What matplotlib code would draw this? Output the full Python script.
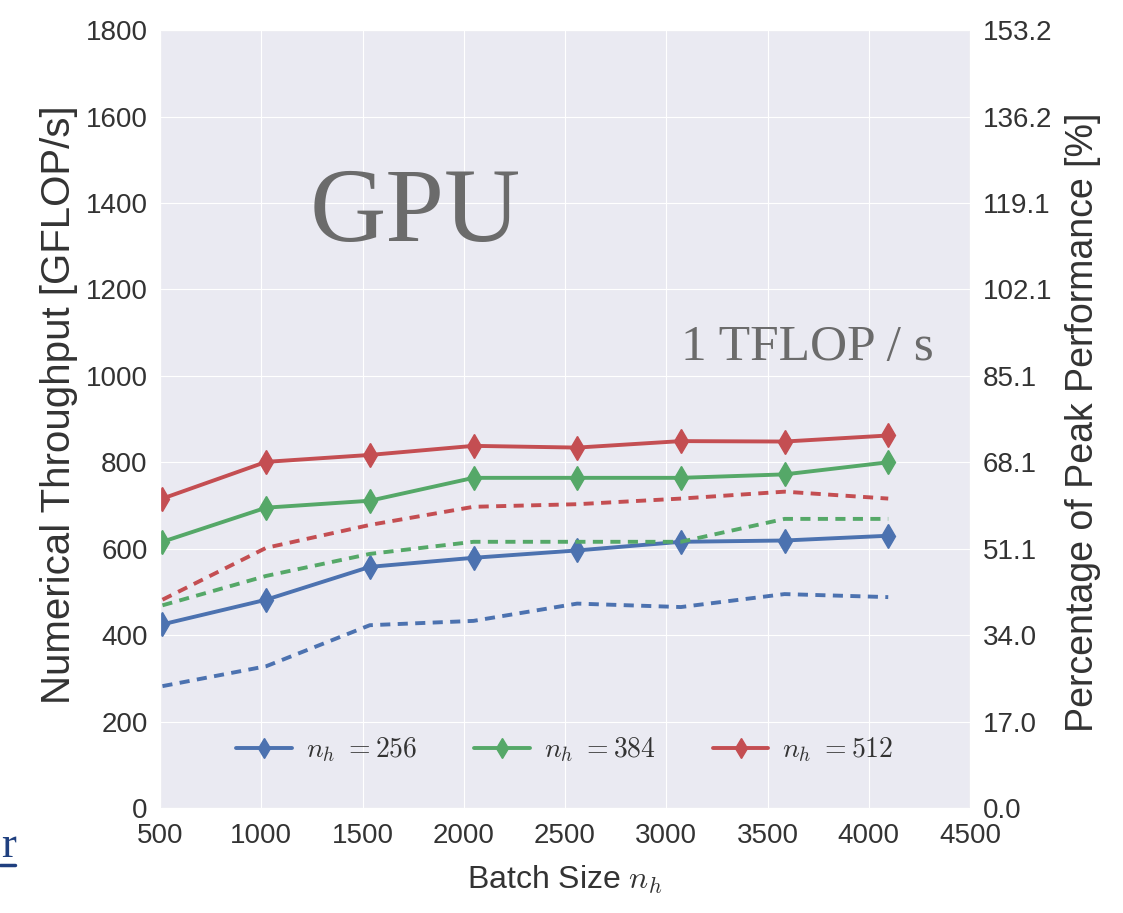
import numpy as np
import matplotlib
matplotlib.use("Agg")
import matplotlib.pyplot as plt
import seaborn as sns

# batch sizes and measured throughput (GFLOP/s)
batch = [512, 1024, 1536, 2048, 2560, 3072, 3584, 4096]
solid_256 = [425, 482, 558, 579, 596, 616, 619, 630]
solid_384 = [616, 695, 711, 764, 764, 764, 772, 800]
solid_512 = [716, 801, 817, 838, 834, 849, 848, 862]
dash_256 = [282, 328, 423, 433, 473, 465, 495, 488]
dash_384 = [469, 537, 588, 616, 616, 616, 669, 669]
dash_512 = [482, 602, 655, 697, 703, 716, 732, 716]
labels = [r"$n_h\ {=}256$", r"$n_h\ {=}384$", r"$n_h\ {=}512$"]
peak = 1175.0  # GFLOP/s

sns.set_style("darkgrid")
plt.rcParams["font.family"] = ["Liberation Sans", "DejaVu Sans"]
plt.rcParams["mathtext.fontset"] = "cm"
plt.rcParams["text.color"] = "#333333"
plt.rcParams["xtick.color"] = "#333333"
plt.rcParams["ytick.color"] = "#333333"

colors = ["#4C72B0", "#55A868", "#C44E52"]

fig = plt.figure(figsize=(11.23, 9.13), dpi=100)
ax = fig.add_axes([0.1425, 0.115, 0.7213, 0.852])

for ys, c, lab in zip([solid_256, solid_384, solid_512], colors, labels):
    ax.plot(batch, ys, color=c, lw=2.8, marker="d", ms=12, label=lab)
for ys, c in zip([dash_256, dash_384, dash_512], colors):
    ax.plot(batch, ys, color=c, lw=2.8, ls="--", dashes=(2.6, 1.9))

ax.set_xlim(500, 4500)
ax.set_ylim(0, 1800)
ax.set_xticks(np.arange(500, 4501, 500))
ax.set_yticks(np.arange(0, 1801, 200))
ax.tick_params(axis="y", labelsize=20, length=0, pad=9)
ax.tick_params(axis="x", labelsize=20, length=0, pad=11)

ax.set_ylabel("Numerical Throughput [GFLOP/s]", fontsize=29, color="#333333")
ax.yaxis.set_label_coords(-0.125, 0.518)
ax.yaxis.label.set_va("center")
ax.set_xlabel(r"Batch Size $n_h$", fontsize=23, color="#333333", labelpad=10)

ax2 = ax.twinx()
ticks_pct = np.arange(0, 1801, 200) / peak * 100
ax2.set_ylim(0, 1800 / peak * 100)
ax2.set_yticks(ticks_pct)
ax2.set_yticklabels(["%.1f" % v for v in ticks_pct])
ax2.grid(False)
ax2.tick_params(labelsize=20, length=0, pad=9)
ax2.set_ylabel("Percentage of Peak Performance [%]", fontsize=27, color="#333333")
ax2.yaxis.set_label_coords(1.14, 0.496)
ax2.yaxis.label.set_va("center")

ax.text(0.315, 0.762, "GPU", transform=ax.transAxes, ha="center", va="center",
        family="Liberation Serif", fontsize=76, color="#6b6b6b")
ax.text(0.799, 0.592, "1 TFLOP / s", transform=ax.transAxes, ha="center", va="center",
        family="Liberation Serif", fontsize=37, color="#6b6b6b")

ax.legend(loc="center", bbox_to_anchor=(0.5, 0.075), ncol=3, frameon=False,
          fontsize=20, handlelength=2.0, handletextpad=0.5, columnspacing=2.05,
          markerscale=0.85)

# leftover link text at the page edge
fig.text(1 / 1123, 0.061, "r", ha="left", va="baseline",
         family="Liberation Serif", fontsize=32, color="#1F3F7F")
fig.add_artist(plt.Line2D([0.0, 15 / 1123], [0.053, 0.053], color="#1F3F7F", lw=2.5,
                          transform=fig.transFigure))

fig.savefig("out.png", dpi=100)
